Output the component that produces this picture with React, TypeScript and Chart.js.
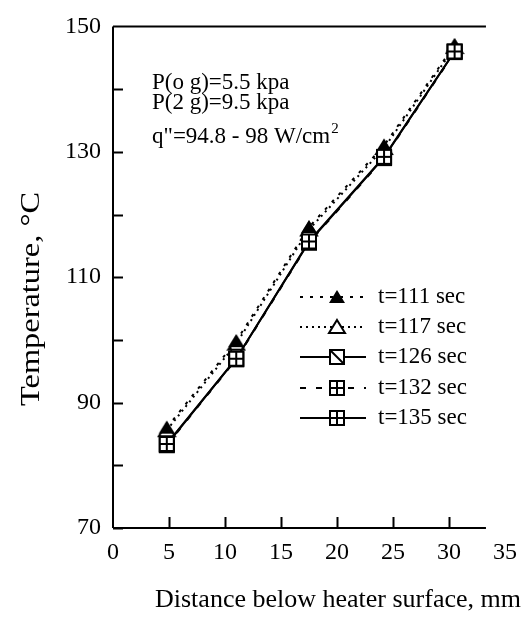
import React, { useEffect, useRef } from 'react';
import { Chart, registerables } from 'chart.js';

Chart.register(...registerables);

// ---- data ----
const distances = [4.8, 11.0, 17.5, 24.2, 30.5];
const seriesLabels = ['t=111 sec', 't=117 sec', 't=126 sec', 't=132 sec', 't=135 sec'];
const t111 = [86.0, 99.8, 118.0, 131.0, 147.0];
const t117 = [85.6, 99.4, 117.6, 130.6, 146.7];
const t126 = [83.3, 97.0, 115.6, 129.1, 146.0];
const t132 = [83.2, 96.9, 115.5, 129.0, 145.9];
const t135 = [83.4, 97.0, 115.7, 129.2, 146.0];
const xTickValues = [0, 5, 10, 15, 20, 25, 30, 35];
const yTickValues = [70, 90, 110, 130, 150];
const yMinorTickValues = [80, 100, 120, 140];
const noteLines = ['P(o g)=5.5 kpa', 'P(2 g)=9.5 kpa', 'q"=94.8 - 98 W/cm'];
const xTitle = 'Distance below heater surface, mm';
const yTitle = 'Temperature, \u00B0C';

const SERIF = '"Liberation Serif", "DejaVu Serif", serif';

function makeMarker(kind: string): HTMLCanvasElement {
  const c = document.createElement('canvas');
  c.width = 20;
  c.height = 20;
  const g = c.getContext('2d')!;
  g.strokeStyle = '#000';
  g.fillStyle = '#fff';
  g.lineWidth = 2;
  if (kind === 'triFilled' || kind === 'triOpen') {
    g.beginPath();
    g.moveTo(10, 3);
    g.lineTo(18, 16);
    g.lineTo(2, 16);
    g.closePath();
    if (kind === 'triFilled') {
      g.fillStyle = '#000';
      g.fill();
    } else {
      g.fill();
      g.stroke();
    }
  } else {
    g.fillRect(3, 3, 14, 14);
    g.strokeRect(3, 3, 14, 14);
    g.beginPath();
    if (kind === 'sqDiag') {
      g.moveTo(3, 3);
      g.lineTo(17, 17);
    } else {
      g.moveTo(10, 3);
      g.lineTo(10, 17);
      g.moveTo(3, 10);
      g.lineTo(17, 10);
    }
    g.stroke();
  }
  return c;
}

export default function App() {
  const ref = useRef<HTMLCanvasElement | null>(null);

  useEffect(() => {
    document.body.style.margin = '0';
    const canvas = ref.current;
    if (!canvas) return;

    const markerKinds = ['triFilled', 'triOpen', 'sqDiag', 'sqCross', 'sqCross'];
    const dashes = [[3, 7], [2, 4], [], [6, 10], []];
    const drawOrder = [2, 3, 4, 1, 0];
    const series = [t111, t117, t126, t132, t135];

    const datasets = series.map((vals, i) => ({
      label: seriesLabels[i],
      data: vals.map((v, j) => ({ x: distances[j], y: v })),
      borderColor: '#000',
      backgroundColor: '#000',
      borderWidth: 2,
      borderDash: dashes[i],
      pointStyle: makeMarker(markerKinds[i]),
      pointRadius: 8,
      showLine: true,
      tension: 0,
      order: drawOrder[i],
    }));

    const decor = {
      id: 'decor',
      afterDraw(chart: any) {
        const { ctx, chartArea, scales } = chart;
        const xs = scales.x;
        const ys = scales.y;
        const L = chartArea.left;
        const T = chartArea.top;
        const B = chartArea.bottom;
        const xEnd = xs.getPixelForValue(33.3);
        ctx.save();
        ctx.strokeStyle = '#000';
        ctx.lineWidth = 2;
        ctx.setLineDash([]);
        ctx.beginPath();
        ctx.moveTo(L, T);
        ctx.lineTo(L, B);
        ctx.moveTo(L, B);
        ctx.lineTo(xEnd, B);
        ctx.moveTo(L, T);
        ctx.lineTo(xEnd, T);
        [...yTickValues, ...yMinorTickValues].forEach((v) => {
          const py = Math.round(ys.getPixelForValue(v)) + 0.5;
          ctx.moveTo(L, py);
          ctx.lineTo(L + 10, py);
        });
        xTickValues.filter((v) => v > 0 && v < 33).forEach((v) => {
          const px = Math.round(xs.getPixelForValue(v)) + 0.5;
          ctx.moveTo(px, B);
          ctx.lineTo(px, B - 11);
        });
        ctx.stroke();

        // axis titles
        ctx.fillStyle = '#000';
        ctx.font = `26px ${SERIF}`;
        ctx.textAlign = 'center';
        ctx.textBaseline = 'middle';
        ctx.fillText(xTitle, 338, 600);
        ctx.save();
        ctx.translate(32, 299);
        ctx.rotate(-Math.PI / 2);
        ctx.scale(1.2, 1);
        ctx.font = `27px ${SERIF}`;
        ctx.fillText(yTitle, 0, 0);
        ctx.restore();

        // notes
        ctx.font = `23px ${SERIF}`;
        ctx.textAlign = 'left';
        ctx.textBaseline = 'alphabetic';
        const noteBase = [89, 109, 143];
        noteLines.forEach((t, i) => {
          ctx.fillText(t, 152, noteBase[i]);
          if (i === 2) {
            const w = ctx.measureText(t).width;
            ctx.font = `15px ${SERIF}`;
            ctx.fillText('2', 152 + w + 1, noteBase[i] - 10);
            ctx.font = `23px ${SERIF}`;
          }
        });

        // legend
        const rowsY = [297, 327, 357, 388, 418];
        chart.data.datasets.forEach((ds: any, i: number) => {
          const y = rowsY[i];
          ctx.setLineDash(ds.borderDash || []);
          ctx.lineWidth = 2;
          ctx.beginPath();
          ctx.moveTo(300, y);
          ctx.lineTo(366, y);
          ctx.stroke();
          ctx.setLineDash([]);
          const img = ds.pointStyle as HTMLCanvasElement;
          ctx.drawImage(img, 337 - img.width / 2, y - img.height / 2);
          ctx.font = `23px ${SERIF}`;
          ctx.textBaseline = 'middle';
          ctx.fillText(ds.label, 378, y);
        });
        ctx.restore();
      },
    };

    const chart = new Chart(canvas, {
      type: 'scatter',
      data: { datasets },
      options: {
        animation: false,
        responsive: false,
        devicePixelRatio: 1,
        layout: { padding: { top: 25, right: 19, left: 0, bottom: 0 } },
        plugins: { legend: { display: false }, tooltip: { enabled: false } },
        scales: {
          x: {
            type: 'linear',
            min: 0,
            max: 35,
            afterBuildTicks: (s: any) => {
              s.ticks = xTickValues.map((v) => ({ value: v }));
            },
            afterFit: (s: any) => {
              s.height = 97;
            },
            ticks: {
              color: '#000',
              font: { family: SERIF, size: 24 },
              padding: 10,
              maxRotation: 0,
              autoSkip: false,
            },
            grid: { display: false, drawTicks: false },
            border: { display: false },
          },
          y: {
            type: 'linear',
            min: 70,
            max: 150,
            afterBuildTicks: (s: any) => {
              s.ticks = yTickValues.map((v) => ({ value: v }));
            },
            afterFit: (s: any) => {
              s.width = 113;
            },
            ticks: {
              color: '#000',
              font: { family: SERIF, size: 24 },
              padding: 12,
              autoSkip: false,
            },
            grid: { display: false, drawTicks: false },
            border: { display: false },
          },
        },
      },
      plugins: [decor],
    });
    return () => chart.destroy();
  }, []);

  return <canvas ref={ref} width={527} height={625} style={{ display: 'block' }} />;
}
